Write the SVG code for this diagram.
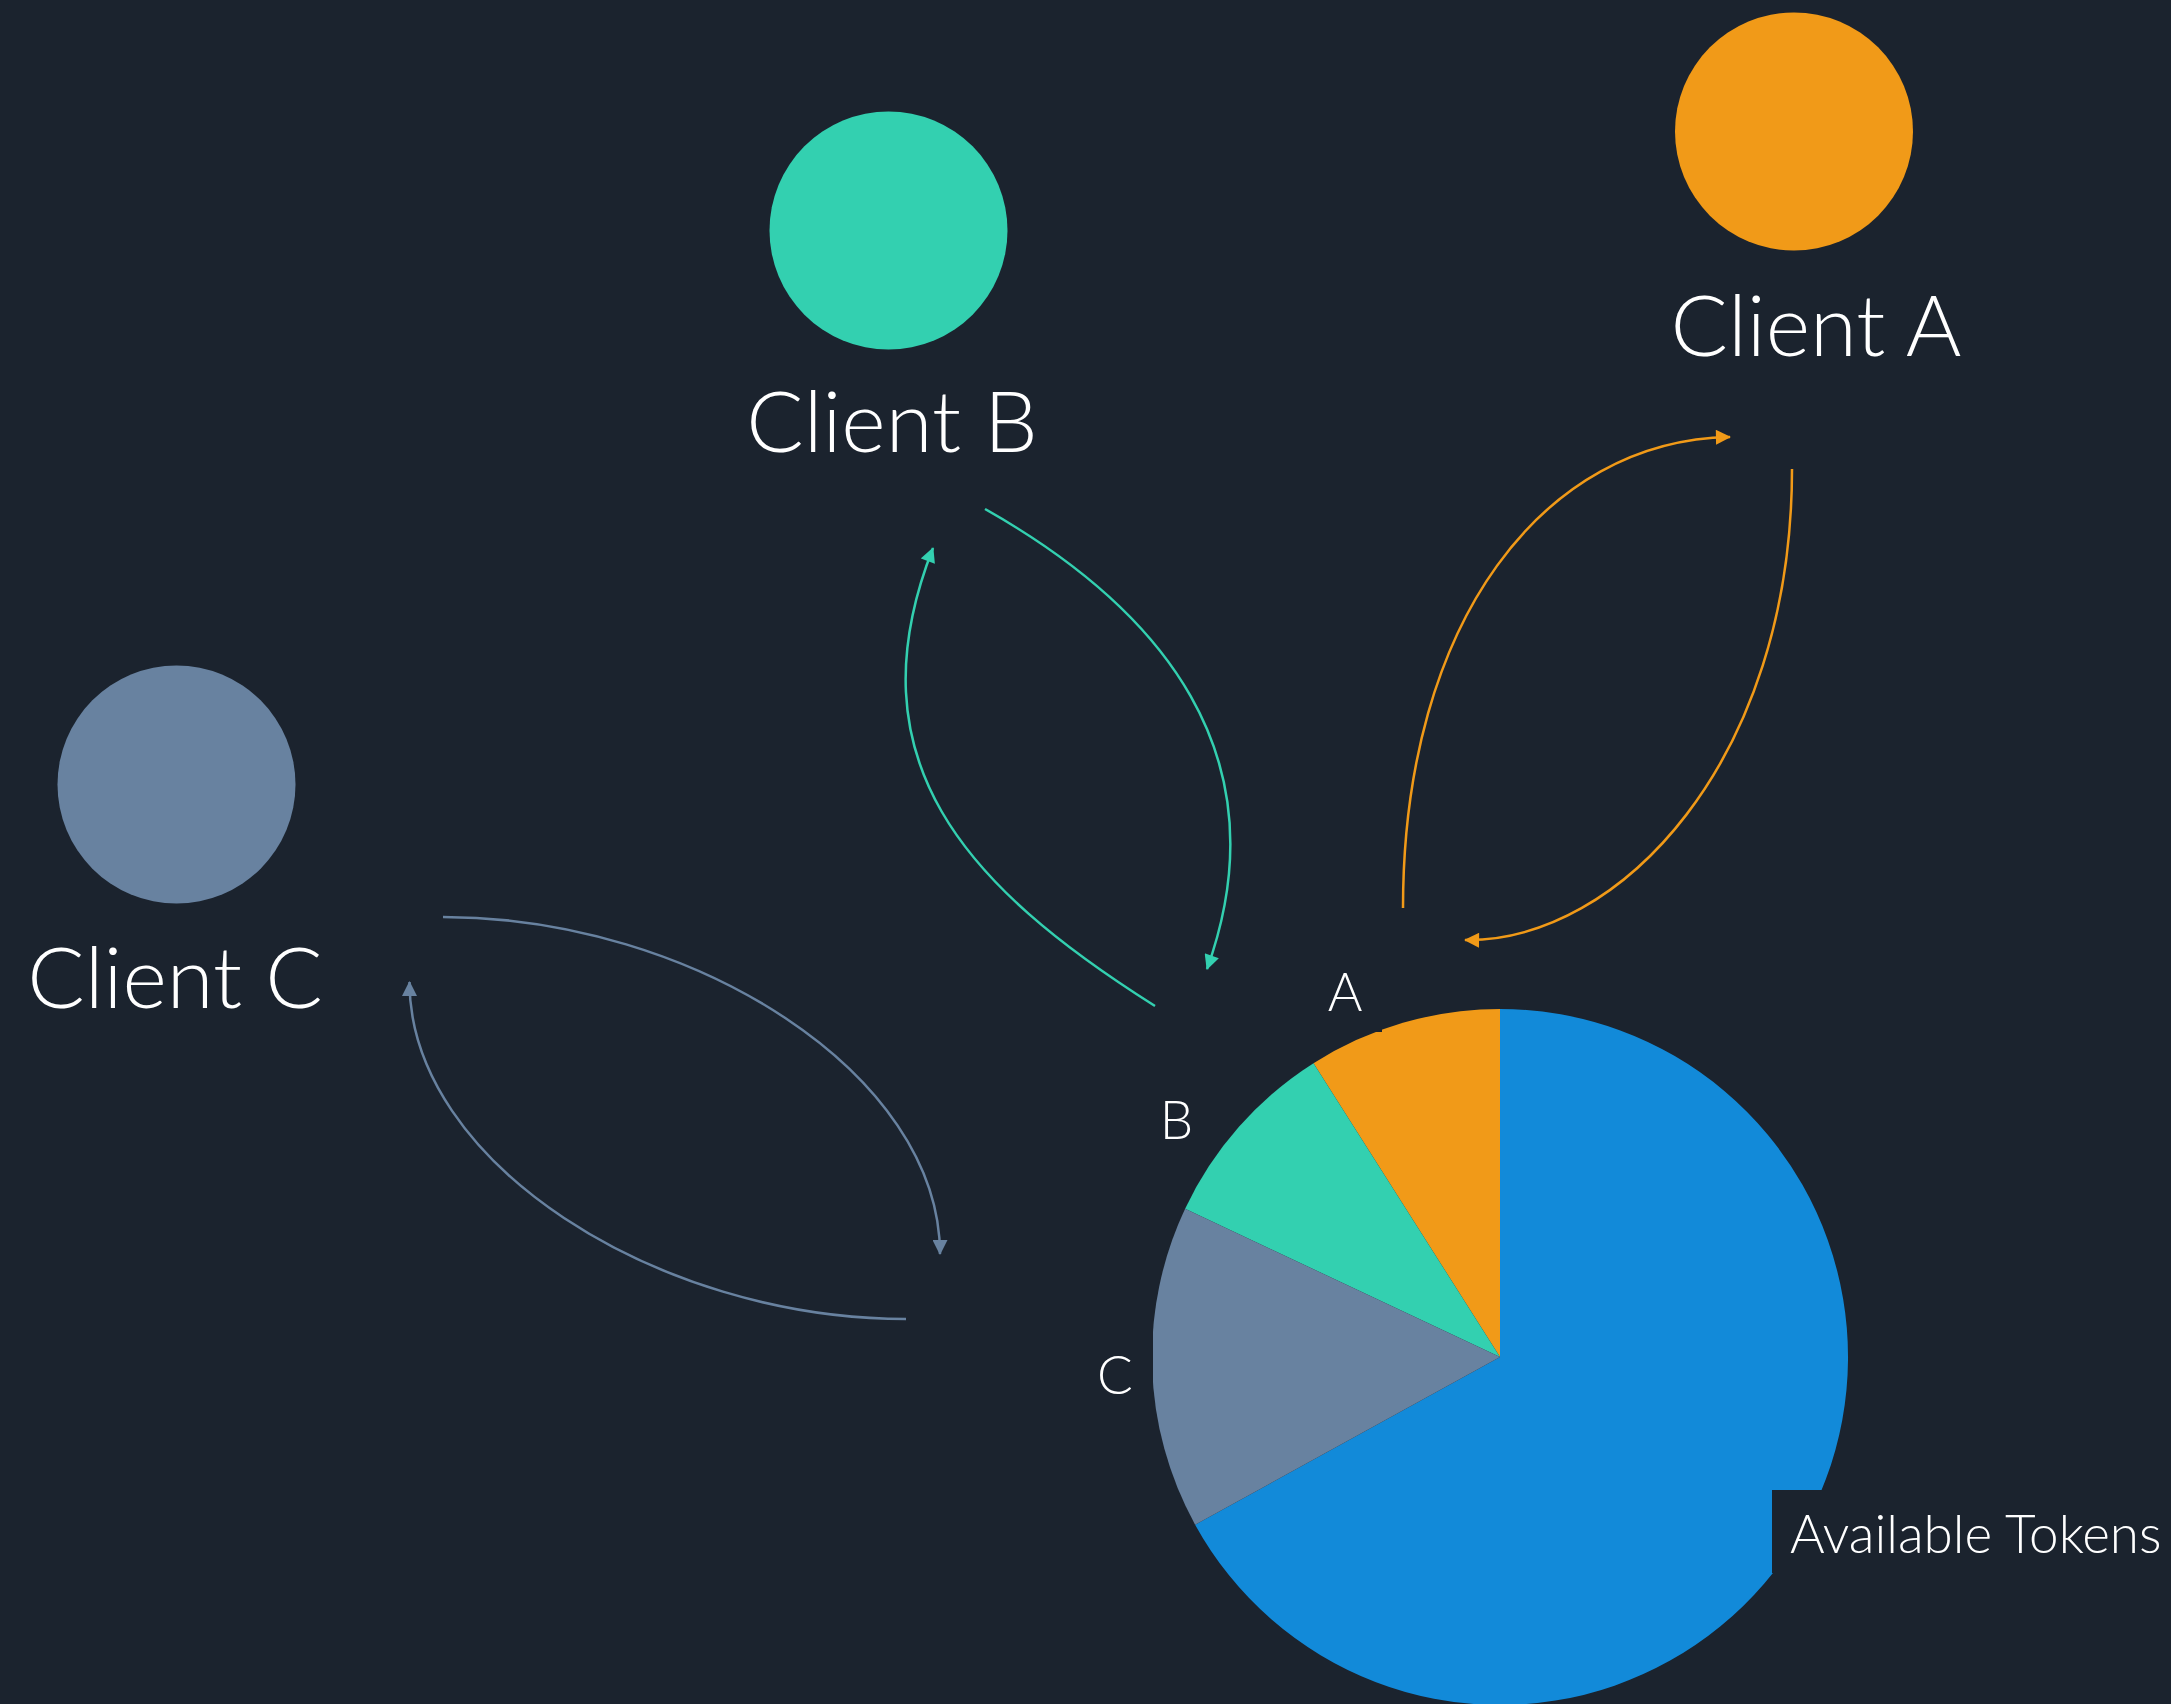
<svg xmlns="http://www.w3.org/2000/svg" width="2171" height="1704" viewBox="0 0 2171 1704">
  <style>
    .bg { fill: #1b232e; }
    .title { font-family: Lato, "Liberation Sans", sans-serif; font-weight: 300; font-size: 85px; fill: #ffffff; text-anchor: middle; }
    .lbl { font-family: Lato, "Liberation Sans", sans-serif; font-weight: 300; font-size: 53px; fill: #ffffff; }
    .conn { fill: none; stroke-width: 2.5; }
    .orange { stroke: #f19a18; }
    .green { stroke: #33d0b0; }
    .slate { stroke: #6882a0; }
  </style>
  <defs>
    <marker id="arrOrange" viewBox="0 0 16 16" refX="15" refY="8" markerWidth="16" markerHeight="15" markerUnits="userSpaceOnUse" orient="auto">
      <path d="M0 0 L16 8 L0 16 Z" fill="#f19a18"/>
    </marker>
    <marker id="arrGreen" viewBox="0 0 16 16" refX="15" refY="8" markerWidth="16" markerHeight="15" markerUnits="userSpaceOnUse" orient="auto">
      <path d="M0 0 L16 8 L0 16 Z" fill="#33d0b0"/>
    </marker>
    <marker id="arrSlate" viewBox="0 0 16 16" refX="15" refY="8" markerWidth="16" markerHeight="15" markerUnits="userSpaceOnUse" orient="auto">
      <path d="M0 0 L16 8 L0 16 Z" fill="#6882a0"/>
    </marker>
  </defs>
  <rect class="bg" x="0" y="0" width="2171" height="1704"/>

  <g id="client-a">
    <circle cx="1794" cy="131.5" r="119" fill="#f19a18"/>
    <text class="title" x="1816" y="356">Client A</text>
  </g>
  <g id="client-b">
    <circle cx="888.5" cy="230.5" r="119" fill="#33d0b0"/>
    <text class="title" x="892" y="452">Client B</text>
  </g>
  <g id="client-c">
    <circle cx="176.5" cy="784.5" r="119" fill="#6882a0"/>
    <text class="title" x="175" y="1008">Client C</text>
  </g>

  <g id="token-pie">
    <path d="M1500 1357 L1195.1 1524.7 A348 348 0 1 0 1500 1009 Z" fill="#128ad9"/>
    <path d="M1500 1357 L1500 1009 A348 348 0 0 0 1313.5 1063.2 Z" fill="#f19a18"/>
    <path d="M1500 1357 L1313.5 1063.2 A348 348 0 0 0 1185.1 1208.8 Z" fill="#33d0b0"/>
    <path d="M1500 1357 L1185.1 1208.8 A348 348 0 0 0 1195.1 1524.7 Z" fill="#6882a0"/>
  </g>

  <g id="label-a">
    <rect class="bg" x="1308" y="949" width="74" height="83"/>
    <text class="lbl" x="1345" y="1011" text-anchor="middle">A</text>
  </g>
  <g id="label-b">
    <rect class="bg" x="1143" y="1077" width="67" height="83"/>
    <text class="lbl" x="1176.5" y="1139" text-anchor="middle">B</text>
  </g>
  <g id="label-c">
    <rect class="bg" x="1079" y="1332" width="74" height="83"/>
    <text class="lbl" x="1115" y="1394" text-anchor="middle">C</text>
  </g>
  <g id="label-available">
    <rect class="bg" x="1772" y="1490" width="420" height="83"/>
    <text class="lbl" x="1790" y="1553">Available Tokens</text>
  </g>

  <g id="connectors">
    <path class="conn orange" d="M1403 908 C1403 620 1545 440 1730 437" marker-end="url(#arrOrange)"/>
    <path class="conn orange" d="M1792 469 C1792 760 1620 942 1465 940" marker-end="url(#arrOrange)"/>
    <path class="conn green" d="M985 509 C1160 608 1284 755 1207 969" marker-end="url(#arrGreen)"/>
    <path class="conn green" d="M1155 1006 C965 886 850 760 933 548" marker-end="url(#arrGreen)"/>
    <path class="conn slate" d="M443 917 C693 917 940 1074 940 1254" marker-end="url(#arrSlate)"/>
    <path class="conn slate" d="M906 1319 C656 1319 409.5 1162 409.5 982" marker-end="url(#arrSlate)"/>
  </g>
</svg>
